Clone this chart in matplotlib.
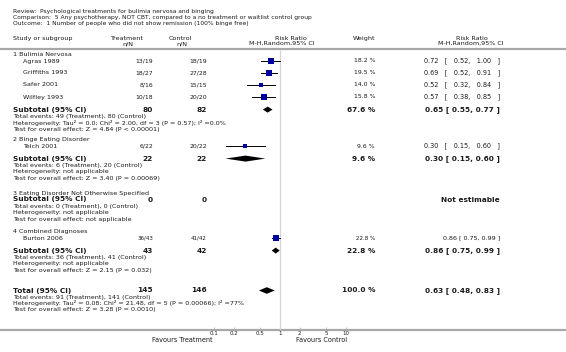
import matplotlib
matplotlib.use("Agg")
import matplotlib.pyplot as plt
import numpy as np

# ---- data ----
review = "Review:  Psychological treatments for bulimia nervosa and binging"
comparison = "Comparison:  5 Any psychotherapy, NOT CBT, compared to a no treatment or waitlist control group"
outcome = "Outcome:  1 Number of people who did not show remission (100% binge free)"

groups = ["1 Bulimia Nervosa", "2 Binge Eating Disorder",
          "3 Eating Disorder Not Otherwise Specified", "4 Combined Diagnoses"]

studies = ["Agras 1989", "Griffiths 1993", "Safer 2001", "Wilfley 1993", "Telch 2001", "Burton 2006"]
study_group = [0, 0, 0, 0, 1, 3]
treat_ev = [13, 18, 8, 10, 6, 36]
treat_n = [19, 27, 16, 18, 22, 43]
ctrl_ev = [18, 27, 15, 20, 20, 41]
ctrl_n = [19, 28, 15, 20, 22, 42]
rr = [0.72, 0.69, 0.52, 0.57, 0.30, 0.86]
rr_lo = [0.52, 0.52, 0.32, 0.38, 0.15, 0.75]
rr_hi = [1.00, 0.91, 0.84, 0.85, 0.60, 0.99]
weight = [18.2, 19.5, 14.0, 15.8, 9.6, 22.8]

sub_tn = [80, 22, 0, 43]
sub_cn = [82, 22, 0, 42]
sub_rr = [0.65, 0.30, None, 0.86]
sub_lo = [0.55, 0.15, None, 0.75]
sub_hi = [0.77, 0.60, None, 0.99]
sub_w = [67.6, 9.6, None, 22.8]
sub_events = ["Total events: 49 (Treatment), 80 (Control)",
              "Total events: 6 (Treatment), 20 (Control)",
              "Total events: 0 (Treatment), 0 (Control)",
              "Total events: 36 (Treatment), 41 (Control)"]
sub_het = ["Heterogeneity: Tau\u00b2 = 0.0; Chi\u00b2 = 2.00, df = 3 (P = 0.57); I\u00b2 =0.0%",
           "Heterogeneity: not applicable",
           "Heterogeneity: not applicable",
           "Heterogeneity: not applicable"]
sub_test = ["Test for overall effect: Z = 4.84 (P < 0.00001)",
            "Test for overall effect: Z = 3.40 (P = 0.00069)",
            "Test for overall effect: not applicable",
            "Test for overall effect: Z = 2.15 (P = 0.032)"]

tot_tn, tot_cn = 145, 146
tot_rr, tot_lo, tot_hi, tot_w = 0.63, 0.48, 0.83, 100.0
tot_events = "Total events: 91 (Treatment), 141 (Control)"
tot_het = "Heterogeneity: Tau\u00b2 = 0.08; Chi\u00b2 = 21.48, df = 5 (P = 0.00066); I\u00b2 =77%"
tot_test = "Test for overall effect: Z = 3.28 (P = 0.0010)"

ticks = [0.1, 0.2, 0.5, 1, 2, 5, 10]
tick_labels = ["0.1", "0.2", "0.5", "1", "2", "5", "10"]

# ---- layout ----
W, H = 566, 352
group_y = [55, 140, 193, 232]
total_y = 290.5
row_step = 12.0
sub_gap = 12.6
compact_row = [False, False, False, False, False, True]  # Burton row printed smaller

fig = plt.figure(figsize=(W / 100, H / 100), dpi=100)
ax0 = fig.add_axes([0, 0, 1, 1])
ax0.set_xlim(0, W)
ax0.set_ylim(H, 0)
ax0.axis("off")

line_y = 329.5
fx0, fx1 = 148, 412  # forest panel from 0.01 to 100
ax = fig.add_axes([fx0 / W, (H - line_y) / H, (fx1 - fx0) / W, line_y / H])
ax.set_xscale("log")
ax.set_xlim(0.01, 100)
ax.set_ylim(line_y, 0)
ax.patch.set_alpha(0)
for s in ax.spines.values():
    s.set_visible(False)
ax.set_yticks([])
ax.set_xticks(ticks)
ax.set_xticklabels(tick_labels)
ax.minorticks_off()
ax.tick_params(axis="x", direction="in", length=2.5, width=0.6, color="#b0b0b0",
               labelsize=4, pad=1.2, labelcolor="#222222")

TXT = "#1a1a1a"
fs_title = 4.3
fs_small = 4.6
fs_num = 4.4
fs_row = 4.6
fs_bold = 5.3
blue = "#0000a0"
EM = "\u2003"

def t(x, y, s, ha="left", fs=fs_small, bold=False, color=TXT):
    ax0.text(x, y, s, ha=ha, va="center", fontsize=fs,
             fontweight="bold" if bold else "normal", color=color)

def ci_text(r, lo, hi, sp=" "):
    return f"{r:.2f}{sp}[{sp}{lo:.2f},{sp}{hi:.2f}{sp}]"

# titles
t(13, 12, review, fs=fs_title)
t(13, 18, comparison, fs=fs_title)
t(13, 24, outcome, fs=fs_title)

# header
t(13, 38.5, "Study or subgroup", fs=fs_row)
t(126, 38, "Treatment", ha="center", fs=fs_row)
t(128, 43.5, "n/N", ha="center", fs=fs_row)
t(180, 38, "Control", ha="center", fs=fs_row)
t(182, 43.5, "n/N", ha="center", fs=fs_row)
t(291, 38, "Risk Ratio", ha="center", fs=fs_row)
t(282, 43.5, "M-H,Random,95% CI", ha="center", fs=fs_row)
t(375, 38.5, "Weight", ha="right", fs=fs_row)
t(472, 38, "Risk Ratio", ha="center", fs=fs_row)
t(471, 43.5, "M-H,Random,95% CI", ha="center", fs=fs_row)

ax0.plot([0, W], [49, 49], color="#a8a8a8", lw=1.6, solid_capstyle="butt")
ax0.plot([0, W], [line_y, line_y], color="#a8a8a8", lw=1.6, solid_capstyle="butt")
ax.vlines(1, 49.5, line_y, color="#d4d4d4", lw=0.9)

x_tr, x_ct, x_w, x_rr = 153, 207, 375, 500

def diamond(y, r, lo, hi, h=3.0):
    ax.fill([lo, r, hi, r], [y, y - h, y, y + h], color="black", lw=0)

for g, gname in enumerate(groups):
    y = group_y[g]
    t(13, y, gname, fs=fs_row)
    idx = [i for i, sg in enumerate(study_group) if sg == g]
    for k, i in enumerate(idx):
        ys = y + 6 + row_step * k
        small = compact_row[i]
        fsn = 4.0 if small else fs_num
        t(23, ys, studies[i], fs=fs_row)
        t(x_tr, ys, f"{treat_ev[i]}/{treat_n[i]}", ha="right", fs=fsn)
        t(x_ct, ys, f"{ctrl_ev[i]}/{ctrl_n[i]}", ha="right", fs=fsn)
        t(x_w, ys, f"{weight[i]:.1f} %", ha="right", fs=fsn)
        if small:
            t(x_rr, ys, ci_text(rr[i], rr_lo[i], rr_hi[i]), ha="right", fs=4.6)
        else:
            t(x_rr, ys, ci_text(rr[i], rr_lo[i], rr_hi[i], EM), ha="right", fs=4.7)
        ax.plot([rr_lo[i], rr_hi[i]], [ys, ys], color="black", lw=0.7)
        side = 1.3 * np.sqrt(weight[i]) * 0.72
        ax.plot(rr[i], ys, marker="s", ms=side, color=blue, mec=blue, mew=0)
    if idx:
        ys_sub = y + 6 + row_step * (len(idx) - 1) + sub_gap
    else:
        ys_sub = y + 6.5
    t(13, ys_sub, "Subtotal (95% CI)", fs=fs_bold, bold=True)
    t(x_tr, ys_sub, str(sub_tn[g]), ha="right", fs=fs_bold, bold=True)
    t(x_ct, ys_sub, str(sub_cn[g]), ha="right", fs=fs_bold, bold=True)
    if sub_rr[g] is None:
        t(x_rr, ys_sub, "Not estimable", ha="right", fs=fs_bold, bold=True)
    else:
        t(x_w, ys_sub, f"{sub_w[g]:.1f} %", ha="right", fs=fs_bold, bold=True)
        t(x_rr, ys_sub, ci_text(sub_rr[g], sub_lo[g], sub_hi[g]), ha="right",
          fs=fs_bold, bold=True)
        diamond(ys_sub, sub_rr[g], sub_lo[g], sub_hi[g])
    t(13, ys_sub + 7, sub_events[g])
    t(13, ys_sub + 13, sub_het[g])
    t(13, ys_sub + 19.5, sub_test[g])

# overall total
yt = total_y
t(13, yt, "Total (95% CI)", fs=fs_bold, bold=True)
t(x_tr, yt, str(tot_tn), ha="right", fs=fs_bold, bold=True)
t(x_ct, yt, str(tot_cn), ha="right", fs=fs_bold, bold=True)
t(x_w, yt, f"{tot_w:.1f} %", ha="right", fs=fs_bold, bold=True)
t(x_rr, yt, ci_text(tot_rr, tot_lo, tot_hi), ha="right", fs=fs_bold, bold=True)
diamond(yt, tot_rr, tot_lo, tot_hi, h=3.3)
t(13, yt + 6.5, tot_events)
t(13, yt + 12.5, tot_het)
t(13, yt + 18.5, tot_test)

# favours labels
t(213, 340, "Favours Treatment", ha="right", fs=4.7)
t(296, 340, "Favours Control", ha="left", fs=4.7)

fig.savefig("out.png", dpi=100)
